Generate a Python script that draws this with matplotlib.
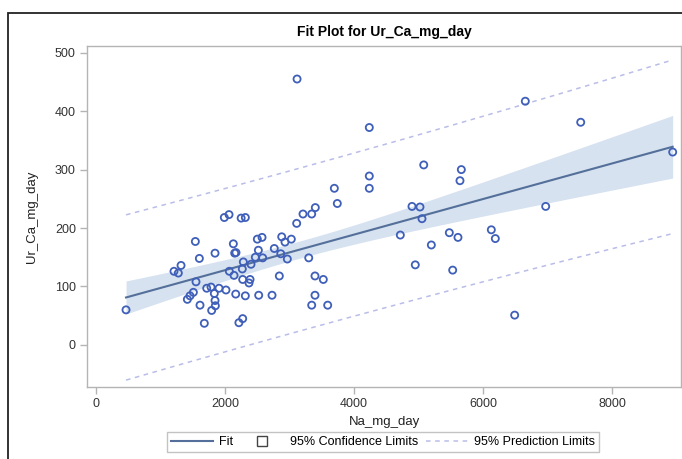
import numpy as np
import matplotlib
matplotlib.use('Agg')
import matplotlib.pyplot as plt
from matplotlib.lines import Line2D
from matplotlib.patches import Rectangle

# data
na_mg_day = [465, 1209, 1276, 1318, 1416, 1457, 1509, 1540, 1550, 1602,
             1612, 1679, 1716, 1783, 1793, 1834, 1845, 1845, 1850, 1907,
             1989, 2015, 2067, 2062, 2129, 2140, 2150, 2170, 2166, 2250,
             2215, 2315, 2274, 2268, 2284, 2274, 2388, 2372, 2403, 2315,
             2470, 2501, 2517, 2522, 2574, 2584, 2729, 2764, 2842, 2864,
             2879, 2930, 2966, 3028, 3111, 3117, 3209, 3298, 3344, 3344,
             3395, 3395, 3400, 3524, 3592, 3695, 3741, 4237, 4237, 4237,
             4718, 4899, 4950, 5023, 5054, 5081, 5199, 5478, 5530, 5612,
             5643, 5664, 6129, 6191, 6491, 6656, 6972, 7515, 8941]
ur_ca_mg_day = [60, 126, 123, 136, 78, 84, 90, 177, 108, 148,
                68, 37, 97, 99, 59, 88, 157, 76, 67, 97,
                218, 94, 126, 223, 173, 119, 157, 158, 87, 217,
                38, 218, 45, 130, 142, 112, 112, 106, 138, 84,
                150, 181, 162, 85, 184, 149, 85, 165, 118, 156,
                185, 176, 147, 181, 208, 455, 224, 149, 224, 68,
                118, 85, 235, 112, 68, 268, 242, 372, 289, 268,
                188, 237, 137, 236, 216, 308, 171, 192, 128, 184,
                281, 300, 197, 182, 51, 417, 237, 381, 330]

x_ticks = [0, 2000, 4000, 6000, 8000]
y_ticks = [0, 100, 200, 300, 400, 500]
t_crit = 1.99  # t(0.975, n-2)

x = np.array(na_mg_day, dtype=float)
y = np.array(ur_ca_mg_day, dtype=float)
n = len(x)

# OLS fit with confidence / prediction limits
slope, intercept = np.polyfit(x, y, 1)
resid = y - (intercept + slope * x)
s = np.sqrt(np.sum(resid ** 2) / (n - 2))
xbar = x.mean()
sxx = np.sum((x - xbar) ** 2)

xs = np.linspace(x.min(), x.max(), 200)
fit = intercept + slope * xs
se_mean = s * np.sqrt(1.0 / n + (xs - xbar) ** 2 / sxx)
se_pred = s * np.sqrt(1.0 + 1.0 / n + (xs - xbar) ** 2 / sxx)

plt.rcParams['font.family'] = ['Liberation Sans', 'DejaVu Sans']

fig = plt.figure(figsize=(6.82, 4.59), dpi=100)
ax = fig.add_axes([87 / 682, 1 - 387 / 459, 594 / 682, 341.3 / 459])

band_col = '#d6e2f0'
fit_col = '#54709a'
pred_col = '#b9bde8'
mark_col = '#3f5fb8'

ax.fill_between(xs, fit - t_crit * se_mean, fit + t_crit * se_mean,
                color=band_col, lw=0, zorder=1)
ax.plot(xs, fit, color=fit_col, lw=1.5, zorder=3)
ax.plot(xs, fit + t_crit * se_pred, color=pred_col, lw=1.1, ls=(0, (3, 3)), zorder=2)
ax.plot(xs, fit - t_crit * se_pred, color=pred_col, lw=1.1, ls=(0, (3, 3)), zorder=2)
ax.scatter(x, y, s=26, facecolors='none', edgecolors=mark_col, linewidths=1.3, zorder=4)

ax.set_xlim(-140, 9070)
ax.set_ylim(-72, 512)
ax.set_xticks(x_ticks)
ax.set_yticks(y_ticks)

for sp in ax.spines.values():
    sp.set_color('#b4b4b4')
    sp.set_linewidth(1.0)
ax.tick_params(direction='out', length=5, width=1, color='#b4b4b4',
               labelsize=9, labelcolor='#333333', pad=3)

ax.set_xlabel('Na_mg_day', fontsize=9.5, color='#222222', labelpad=4)
ax.set_ylabel('Ur_Ca_mg_day', fontsize=9.5, color='#222222', labelpad=12)
ax.set_title('Fit Plot for Ur_Ca_mg_day', fontsize=10, fontweight='bold', pad=7)

handles = [
    Line2D([], [], color=fit_col, lw=1.5),
    Line2D([], [], marker='s', ls='none', markersize=6.5,
           markerfacecolor='white', markeredgecolor='#444444', markeredgewidth=1.0),
    Line2D([], [], color=pred_col, lw=1.1, ls=(0, (3, 3))),
]
labels = ['Fit', '95% Confidence Limits', '95% Prediction Limits']
leg = fig.legend(handles, labels, loc='center', bbox_to_anchor=(383 / 682, 1 - 442 / 459),
                 ncol=3, fontsize=9, frameon=True, fancybox=False,
                 handlelength=3.4, handletextpad=0.5, columnspacing=0.6,
                 borderpad=0.3)
leg.get_frame().set_edgecolor('#b4b4b4')
leg.get_frame().set_linewidth(1.0)

# outer frame of the screenshot
fig.add_artist(Rectangle((8 / 682, -0.1), 1.2, 1.1 - 13 / 459, transform=fig.transFigure,
                         fill=False, edgecolor='#222222', lw=1.3))

fig.savefig('out.png', dpi=100)
